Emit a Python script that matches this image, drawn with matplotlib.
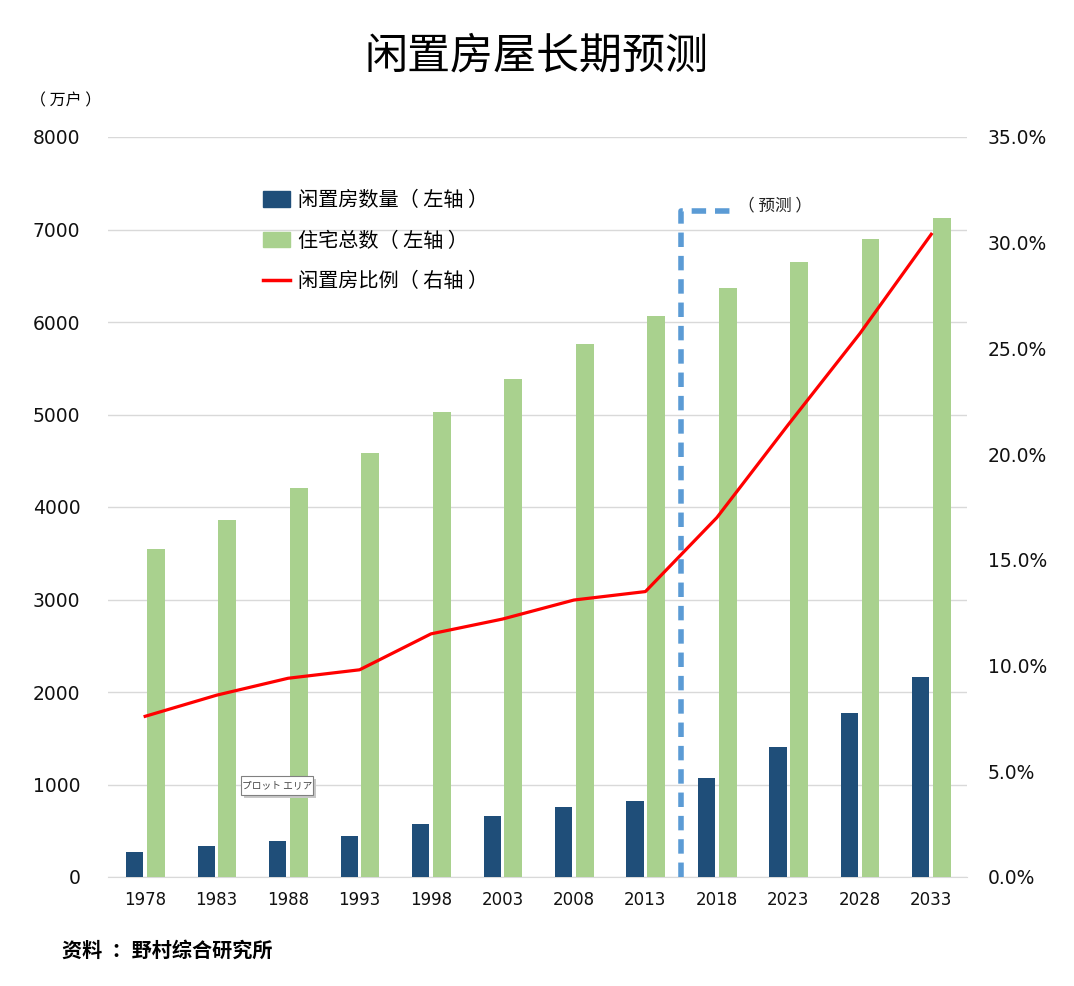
import numpy as np
import matplotlib.pyplot as plt
from matplotlib.lines import Line2D
from matplotlib.patches import Patch, Rectangle
from matplotlib.ticker import FuncFormatter

plt.rcParams['font.family'] = ['Noto Sans CJK SC', 'DejaVu Sans']

# data
years = ['1978', '1983', '1988', '1993', '1998', '2003', '2008', '2013',
         '2018', '2023', '2028', '2033']
vacant = [268, 330, 394, 448, 576, 659, 757, 820, 1070, 1405, 1770, 2165]      # 万户
total = [3545, 3861, 4201, 4588, 5025, 5389, 5759, 6063, 6365, 6645, 6895, 7125]  # 万户
ratio = [7.6, 8.6, 9.4, 9.8, 11.5, 12.2, 13.1, 13.5, 17.0, 21.4, 25.7, 30.4]      # %
forecast_from = 7.5  # boundary between actual and forecast

c_blue = '#1F4E79'
c_green = '#A9D18E'
c_red = '#FF0000'
c_dash = '#5B9BD5'
c_grid = '#D9D9D9'
W, H = 1074, 986

fig = plt.figure(figsize=(W / 100, H / 100), dpi=100)
ax = fig.add_axes([108 / W, 109 / H, 859 / W, 740 / H])
ax2 = ax.twinx()

x = np.arange(len(years))
ax.bar(x - 0.145, vacant, width=0.24, color=c_blue, zorder=3)
ax.bar(x + 0.15, total, width=0.25, color=c_green, zorder=3)
ax2.plot(x, ratio, color=c_red, lw=2.3, zorder=4)

# forecast marker
ax2.plot([forecast_from, forecast_from, 8.22], [0, 7200, 7200], transform=ax.transData,
         color=c_dash, lw=4, linestyle=(0, (2.6, 1.6)), zorder=5, clip_on=False)
ax.text(8.3, 7260, '（ 预测 ）', fontsize=12, color='#222222', va='center', ha='left')

ax.set_xlim(-0.52, 11.5)
ax.set_ylim(0, 8000)
ax2.set_ylim(0, 35)
ax.set_yticks(np.arange(0, 8001, 1000))
ax2.set_yticks(np.arange(0, 35.1, 5))
ax2.yaxis.set_major_formatter(FuncFormatter(lambda v, p: f'{v:.1f}%'))
ax.set_xticks(x)
ax.set_xticklabels(years)

ax.grid(axis='y', color=c_grid, lw=1, zorder=0)
ax.set_axisbelow(True)
for a in (ax, ax2):
    for s in ('top', 'left', 'right'):
        a.spines[s].set_visible(False)
    a.spines['bottom'].set_color(c_grid)
ax2.spines['bottom'].set_visible(False)

ax.tick_params(axis='y', length=0, pad=20, labelsize=13.5, labelcolor='#111111')
ax2.tick_params(axis='y', length=0, pad=15, labelsize=13.5, labelcolor='#111111')
ax.tick_params(axis='x', length=0, pad=10, labelsize=12, labelcolor='#111111')
for lab in ax.get_xticklabels() + ax.get_yticklabels() + ax2.get_yticklabels():
    lab.set_family('DejaVu Sans')

handles = [Patch(color=c_blue), Patch(color=c_green), Line2D([0], [0], color=c_red, lw=2.5)]
labels = ['闲置房数量（ 左轴 ）', '住宅总数（ 左轴 ）', '闲置房比例（ 右轴 ）']
fig.legend(handles, labels, loc='upper left', bbox_to_anchor=(263 / W, 1 - 190 / H),
           frameon=False, fontsize=14.5, handlelength=1.35, handleheight=0.8,
           handletextpad=0.4, labelspacing=0.98, borderaxespad=0, borderpad=0)

fig.text(537 / W, 1 - 57 / H, '闲置房屋长期预测', fontsize=31, fontweight='medium',
         ha='center', va='center')
fig.text(30 / W, 1 - 101 / H, '（ 万户 ）', fontsize=11.5, ha='left', va='center')
fig.text(62 / W, 1 - 950 / H, '资料  ：野村综合研究所', fontsize=14.5, fontweight='bold',
         ha='left', va='center')

# leftover Excel tooltip
fig.add_artist(Rectangle((244 / W, 1 - 798 / H), 72 / W, 19 / H, transform=fig.transFigure,
                         facecolor='#C8C8C8', edgecolor='none'))
fig.add_artist(Rectangle((241 / W, 1 - 795 / H), 72 / W, 19 / H, transform=fig.transFigure,
                         facecolor='white', edgecolor='#808080', lw=0.8))
fig.text(277 / W, 1 - 785.5 / H, 'プロット エリア', fontsize=7, ha='center', va='center',
         color='#444444')

fig.savefig('out.png', dpi=100)
